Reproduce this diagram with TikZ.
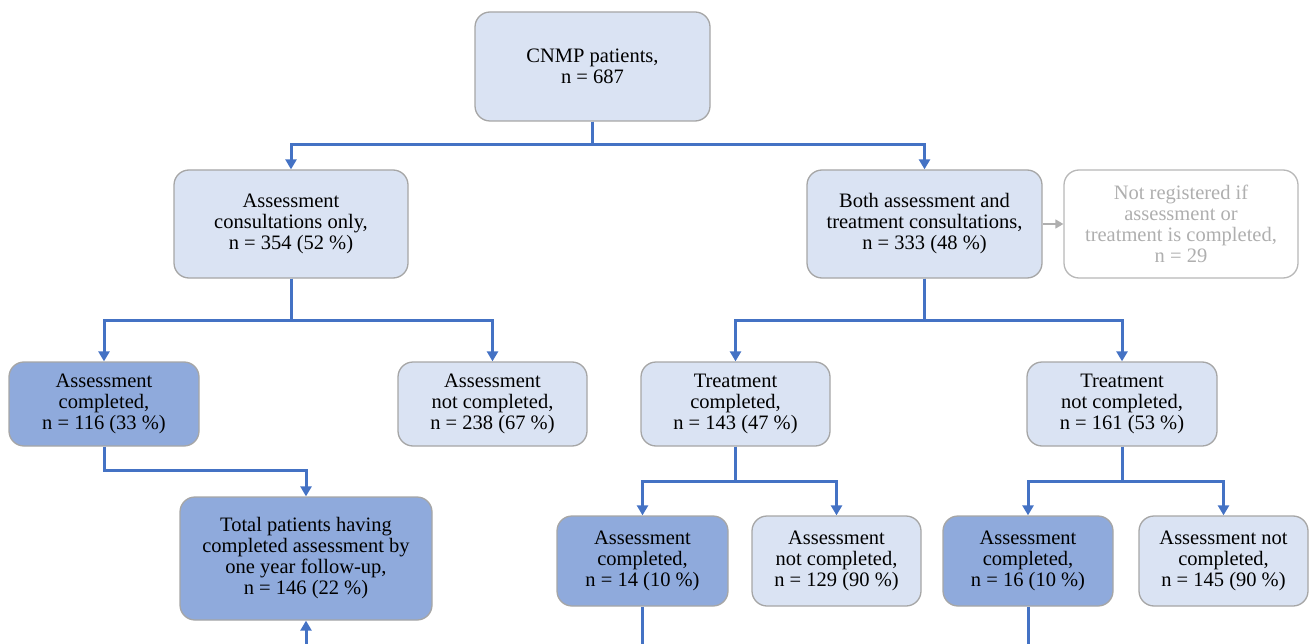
\documentclass[tikz,border=0pt]{standalone}
\usepackage{fontspec}
\setmainfont{Liberation Serif}
\usetikzlibrary{arrows.meta}
\definecolor{lightfill}{HTML}{DAE3F3}
\definecolor{darkfill}{HTML}{8FAADC}
\definecolor{lineblue}{HTML}{4472C4}
\definecolor{boxborder}{HTML}{A6A6A6}
\definecolor{graytext}{HTML}{AFAFAF}
\tikzset{
  box/.style={draw=boxborder, line width=1.3pt, rounded corners=15pt, fill=lightfill, align=center,
    font=\fontsize{20.5}{21}\selectfont, inner sep=1pt},
  darkbox/.style={box, fill=darkfill},
  graybox/.style={box, fill=white, draw=boxborder!80, text=graytext},
  conn/.style={draw=lineblue, line width=3pt, -{Triangle[length=10pt,width=11pt]}},
  plainconn/.style={draw=lineblue, line width=3pt},
  grayconn/.style={draw=graytext, line width=1.6pt, -{Triangle[length=8pt,width=9pt]}}
}
\begin{document}
\begin{tikzpicture}[x=1pt,y=-1pt]
\useasboundingbox (0,0) rectangle (1316,644);
\node[box, minimum width=235pt, minimum height=109pt] (cnmp) at (592.5,66.5) {CNMP patients,\\n = 687};
\node[box, minimum width=234pt, minimum height=108pt] (aonly) at (291,224) {Assessment\\consultations only,\\n = 354 (52 \%)};
\node[box, minimum width=235pt, minimum height=108pt] (both) at (924.5,224) {Both assessment and\\treatment consultations,\\n = 333 (48 \%)};
\node[graybox, minimum width=234pt, minimum height=108pt] (notreg) at (1181,224) {Not registered if\\assessment or\\treatment is completed,\\n = 29};
\node[darkbox, minimum width=190pt, minimum height=84pt] (ac116) at (104,404) {Assessment\\completed,\\n = 116 (33 \%)};
\node[box, minimum width=189pt, minimum height=84pt] (anc238) at (492.5,404) {Assessment\\not completed,\\n = 238 (67 \%)};
\node[box, minimum width=189pt, minimum height=84pt] (tc143) at (735.5,404) {Treatment\\completed,\\n = 143 (47 \%)};
\node[box, minimum width=190pt, minimum height=84pt] (tnc161) at (1122,404) {Treatment\\not completed,\\n = 161 (53 \%)};
\node[darkbox, minimum width=252pt, minimum height=123pt] (total) at (306,558.5) {Total patients having\\completed assessment by\\one year follow-up,\\n = 146 (22 \%)};
\node[darkbox, minimum width=171pt, minimum height=90pt] (ac14) at (642.5,561) {Assessment\\completed,\\n = 14 (10 \%)};
\node[box, minimum width=169pt, minimum height=90pt] (anc129) at (836.5,561) {Assessment\\not completed,\\n = 129 (90 \%)};
\node[darkbox, minimum width=170pt, minimum height=90pt] (ac16) at (1028,561) {Assessment\\completed,\\n = 16 (10 \%)};
\node[box, minimum width=169pt, minimum height=90pt] (anc145) at (1223.5,561) {Assessment not\\completed,\\n = 145 (90 \%)};
\coordinate (e14) at (642.5,644);
\coordinate (e16) at (1028,644);
\coordinate (etot) at (306,644);
% connectors
\draw[conn] (cnmp.south) -- ++(0,23) -| (aonly.north);
\draw[conn] (cnmp.south) -- ++(0,23) -| (both.north);
\draw[conn] (aonly.south) -- ++(0,42) -| (ac116.north);
\draw[conn] (aonly.south) -- ++(0,42) -| (anc238.north);
\draw[conn] (both.south) -- ++(0,42) -| (tc143.north);
\draw[conn] (both.south) -- ++(0,42) -| (tnc161.north);
\draw[grayconn] (both.east) -- (notreg.west);
\draw[conn] (ac116.south) -- ++(0,24) -| (total.north);
\draw[conn] (tc143.south) -- ++(0,35) -| (ac14.north);
\draw[conn] (tc143.south) -- ++(0,35) -| (anc129.north);
\draw[conn] (tnc161.south) -- ++(0,35) -| (ac16.north);
\draw[conn] (tnc161.south) -- ++(0,35) -| (anc145.north);
\draw[plainconn] (ac14.south) -- (e14);
\draw[plainconn] (ac16.south) -- (e16);
\draw[conn] (etot) -- (total.south);
\end{tikzpicture}
\end{document}
